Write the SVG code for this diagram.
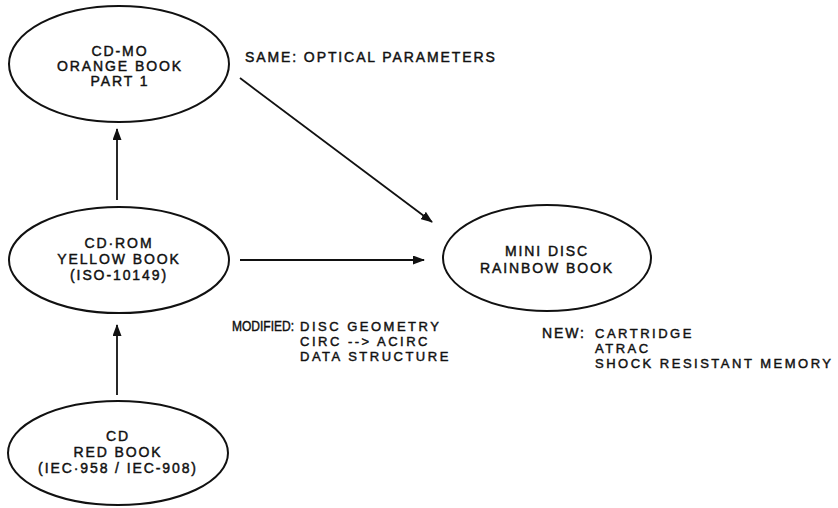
<svg xmlns="http://www.w3.org/2000/svg" width="838" height="508" viewBox="0 0 838 508">
<defs>
<style>
.n{fill:#fff;stroke:#111;stroke-width:2}
.t{font-family:"Liberation Sans",Arial,sans-serif;font-size:14px;letter-spacing:1.9px;fill:#111;stroke:#111;stroke-width:0.45}
.s{font-size:13px;letter-spacing:2.5px}
.c{text-anchor:middle}
.m{letter-spacing:0}
.e{stroke:#111;stroke-width:1.8;fill:none;marker-end:url(#ah)}
</style>
<marker id="ah" viewBox="0 0 12 9" refX="11" refY="4.5" markerWidth="12" markerHeight="9" markerUnits="userSpaceOnUse" orient="auto">
<path d="M0,0 L12,4.5 L0,9 Z" fill="#111"/>
</marker>
</defs>
<rect width="838" height="508" fill="#fff"/>
<g id="connectors">
<line class="e" x1="117" y1="200" x2="117" y2="129"/>
<line class="e" x1="117" y1="395" x2="117" y2="325"/>
<line class="e" x1="240" y1="260" x2="424" y2="260"/>
<line class="e" x1="240" y1="78" x2="432" y2="222"/>
</g>
<g id="cdmo">
<ellipse class="n" cx="119" cy="64" rx="110" ry="58"/>
<text class="t c"><tspan x="120" y="56">CD-MO</tspan><tspan x="120" y="71">ORANGE BOOK</tspan><tspan x="120" y="86">PART 1</tspan></text>
</g>
<g id="cdrom">
<ellipse class="n" cx="119" cy="260" rx="110" ry="53"/>
<text class="t c"><tspan x="119" y="248">CD·ROM</tspan><tspan x="119" y="264">YELLOW BOOK</tspan><tspan x="119" y="280">(ISO-10149)</tspan></text>
</g>
<g id="cd">
<ellipse class="n" cx="118" cy="453" rx="110" ry="52"/>
<text class="t c"><tspan x="118" y="441">CD</tspan><tspan x="118" y="457">RED BOOK</tspan><tspan x="118" y="473">(IEC·958 / IEC-908)</tspan></text>
</g>
<g id="minidisc">
<ellipse class="n" cx="547" cy="258" rx="104" ry="53"/>
<text class="t c"><tspan x="547" y="256">MINI DISC</tspan><tspan x="547" y="273">RAINBOW BOOK</tspan></text>
</g>
<g id="labels">
<text class="t" x="245" y="62">SAME: OPTICAL PARAMETERS</text>
<text class="t m" x="232" y="331" textLength="62" lengthAdjust="spacingAndGlyphs">MODIFIED:</text>
<text class="t s"><tspan x="300" y="331">DISC GEOMETRY</tspan><tspan x="300" y="346">CIRC --&gt; ACIRC</tspan><tspan x="300" y="361">DATA STRUCTURE</tspan></text>
<text class="t" x="542" y="338">NEW:</text>
<text class="t s"><tspan x="595" y="338">CARTRIDGE</tspan><tspan x="595" y="353">ATRAC</tspan><tspan x="595" y="368">SHOCK RESISTANT MEMORY</tspan></text>
</g>
</svg>
